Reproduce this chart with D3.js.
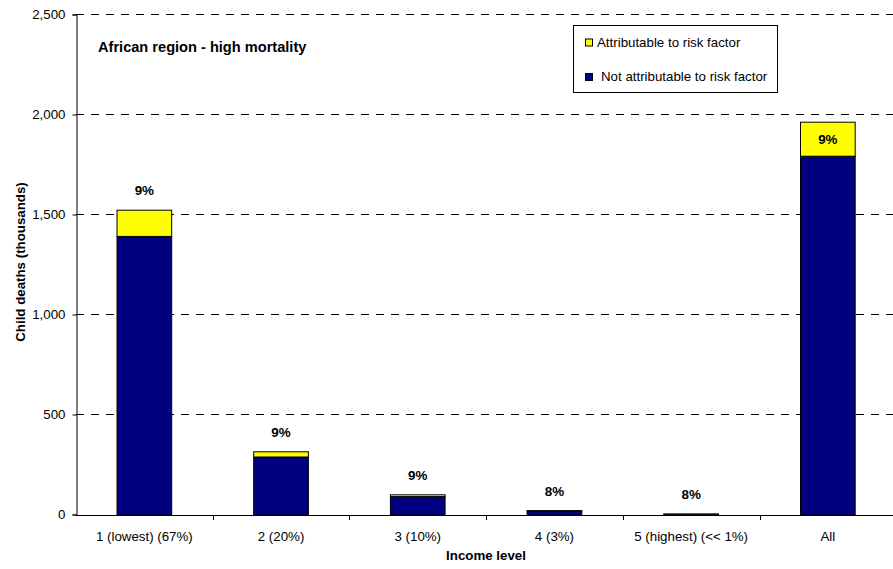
<!DOCTYPE html>
<html>
<head>
<meta charset="utf-8">
<script src="https://cdn.jsdelivr.net/npm/d3@7"></script>
<style>
  body { margin: 0; background: #fff; }
  svg { font-family: "Liberation Sans", Arial, sans-serif; }
</style>
</head>
<body>
<div id="chart"></div>
<script>
// data
const categories = ["1 (lowest) (67%)", "2 (20%)", "3 (10%)", "4 (3%)", "5 (highest) (<< 1%)", "All"];
const notAttributable = [1393, 290, 92, 20, 4, 1794];
const attributable = [131, 26, 9, 2, 1, 170];
const shareLabels = ["9%", "9%", "9%", "8%", "8%", "9%"];
const yTicks = [0, 500, 1000, 1500, 2000, 2500];

const W = 893, H = 569;
const plotLeft = 76, plotTop = 15, plotBottom = 515;
const fs = 13.3;

const svg = d3.select("#chart").append("svg")
  .attr("width", W).attr("height", H);

const x = d3.scaleBand()
  .domain(categories)
  .range([plotLeft, plotLeft + 6 * 136.7])
  .paddingInner(0.6)
  .paddingOuter(0.3);

const y = d3.scaleLinear().domain([0, 2500]).range([plotBottom, plotTop]);

const color = { not: "#000080", attr: "#FFFF00" };

// gridlines
svg.append("g")
  .selectAll("line")
  .data(yTicks.filter(d => d > 0))
  .enter().append("line")
  .attr("x1", plotLeft).attr("x2", W)
  .attr("y1", d => Math.round(y(d)) - 0.5)
  .attr("y2", d => Math.round(y(d)) - 0.5)
  .attr("stroke", "#000")
  .attr("stroke-dasharray", "8,7");

// y axis
const yAxis = svg.append("g")
  .attr("transform", `translate(${plotLeft + 0.5},-0.5)`)
  .call(d3.axisLeft(y).tickValues(yTicks).tickSize(4).tickPadding(7).tickFormat(d3.format(",")));
yAxis.select(".domain").attr("stroke", "#000");
yAxis.selectAll(".tick text").attr("font-size", fs).attr("fill", "#000")
  .attr("font-family", "Liberation Sans, Arial, sans-serif");

// bars
const rows = categories.map((c, i) => ({
  cat: c, not: notAttributable[i], attr: attributable[i], label: shareLabels[i]
}));

const g = svg.append("g");
g.selectAll("rect.not")
  .data(rows).enter().append("rect")
  .attr("class", "not")
  .attr("x", d => x(d.cat))
  .attr("width", x.bandwidth())
  .attr("y", d => y(d.not))
  .attr("height", d => y(0) - y(d.not))
  .attr("fill", color.not)
  .attr("stroke", "#000").attr("stroke-width", 1);

g.selectAll("rect.attr")
  .data(rows).enter().append("rect")
  .attr("class", "attr")
  .attr("x", d => x(d.cat))
  .attr("width", x.bandwidth())
  .attr("y", d => y(d.not + d.attr))
  .attr("height", d => y(d.not) - y(d.not + d.attr))
  .attr("fill", color.attr)
  .attr("stroke", "#000").attr("stroke-width", 1);

// percentage labels (the "All" label sits inside the yellow segment)
g.selectAll("text.pct")
  .data(rows).enter().append("text")
  .attr("class", "pct")
  .attr("x", d => x(d.cat) + x.bandwidth() / 2)
  .attr("y", d => d.cat === "All" ? y(d.not + d.attr) + 21.5 : y(d.not + d.attr) - 15)
  .attr("text-anchor", "middle")
  .attr("font-size", 13.4).attr("font-weight", "bold")
  .text(d => d.label);

// x axis
const xAxisG = svg.append("g");
xAxisG.append("line")
  .attr("x1", plotLeft).attr("x2", W)
  .attr("y1", plotBottom + 0.5).attr("y2", plotBottom + 0.5)
  .attr("stroke", "#000");
xAxisG.selectAll("line.tick")
  .data(categories.slice(1)).enter().append("line")
  .attr("class", "tick")
  .attr("x1", d => Math.round(x(d) - x.step() * x.paddingInner() / 2) + 0.5)
  .attr("x2", d => Math.round(x(d) - x.step() * x.paddingInner() / 2) + 0.5)
  .attr("y1", plotBottom).attr("y2", plotBottom + 5)
  .attr("stroke", "#000");
xAxisG.selectAll("text")
  .data(categories).enter().append("text")
  .attr("x", d => x(d) + x.bandwidth() / 2)
  .attr("y", 541)
  .attr("text-anchor", "middle")
  .attr("font-size", fs)
  .text(d => d);

// axis titles
svg.append("text")
  .attr("x", 486).attr("y", 560)
  .attr("text-anchor", "middle")
  .attr("font-size", fs).attr("font-weight", "bold")
  .text("Income level");

svg.append("text")
  .attr("transform", "translate(24.5,262) rotate(-90)")
  .attr("text-anchor", "middle")
  .attr("font-size", fs).attr("font-weight", "bold")
  .text("Child deaths (thousands)");

// chart title
svg.append("text")
  .attr("x", 98).attr("y", 52)
  .attr("font-size", 14.6).attr("font-weight", "bold")
  .text("African region - high mortality");

// legend
const legend = svg.append("g").attr("transform", "translate(573.5,25.5)");
legend.append("rect")
  .attr("width", 204).attr("height", 67)
  .attr("fill", "#fff").attr("stroke", "#000");

const legendData = [
  { key: "attr", label: "Attributable to risk factor", ty: 21, tx: 23.5 },
  { key: "not", label: "Not attributable to risk factor", ty: 55.5, tx: 27.5 }
];
legend.selectAll("g.item")
  .data(legendData).enter().append("g")
  .attr("class", "item")
  .call(item => {
    item.append("rect")
      .attr("x", 12).attr("y", d => d.ty - 7.5)
      .attr("width", 7).attr("height", 7)
      .attr("fill", d => color[d.key])
      .attr("stroke", "#000");
    item.append("text")
      .attr("x", d => d.tx).attr("y", d => d.ty)
      .attr("font-size", fs)
      .text(d => d.label);
  });
</script>
</body>
</html>
